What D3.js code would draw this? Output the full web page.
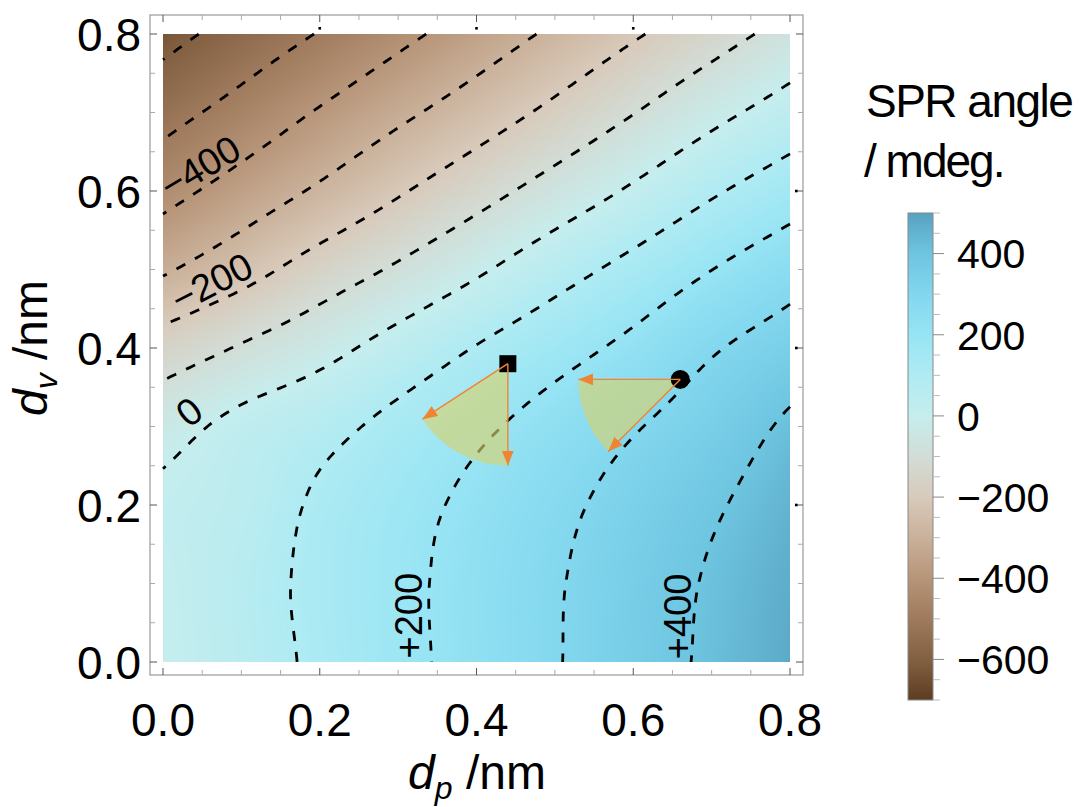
<!DOCTYPE html>
<html>
<head>
<meta charset="utf-8">
<script src="https://cdn.jsdelivr.net/npm/d3@7/dist/d3.min.js"></script>
<style>
body { margin: 0; background: #fff; }
svg text { font-family: "Liberation Sans", Arial, sans-serif; }
</style>
</head>
<body>
<script>
//Width and height
var w = 1081;
var h = 807;

// grid nodes (nm)
var dpValues = [0, 0.1, 0.2, 0.3, 0.4, 0.5, 0.6, 0.7, 0.8];
var dvValues = [0, 0.1, 0.2, 0.3, 0.4, 0.5, 0.6, 0.7, 0.8];

// SPR angle (mdeg), one array per dv row, dp left to right
var sprDv00 = [   0,   58,  117,  175,  234,  294,  355,  416,  477];
var sprDv01 = [   5,   62,  122,  177,  235,  292,  350,  410,  470];
var sprDv02 = [  15,   47,  114,  167,  222,  277,  334,  388,  450];
var sprDv03 = [ -35,   25,   70,  127,  182,  238,  293,  347,  415];
var sprDv04 = [-156,  -92,  -32,   37,  104,  164,  223,  291,  344];
var sprDv05 = [-312, -237, -157,  -87,  -14,   61,  129,  199,  261];
var sprDv06 = [-433, -360, -286, -210, -136,  -61,   13,   88,  153];
var sprDv07 = [-534, -465, -392, -321, -251, -178, -103,  -27,   41];
var sprDv08 = [-632, -562, -495, -425, -355, -283, -211, -140,  -67];

var contourLevels = [-600, -500, -400, -300, -200, -100, 0, 100, 200, 300, 400];
var labelLevels = [-400, -200, 0, 200, 400];
var labelTexts = ["\u2212400", "\u2212200", "0", "+200", "+400"];

var xTicks = [0, 0.2, 0.4, 0.6, 0.8];
var yTicks = [0, 0.2, 0.4, 0.6, 0.8];
var barTicks = [-600, -400, -200, 0, 200, 400];
var barTickLabels = ["\u2212600", "\u2212400", "\u2212200", "0", "200", "400"];
var barDomain = [-700, 500];

// the two measured points and the angle range each one fans out over
var markerDp = [0.44, 0.66];
var markerDv = [0.38, 0.36];
var markerShape = ["square", "circle"];
var wedgeFrom = [213, 180];
var wedgeTo = [270, 225];
var wedgeLength = 0.13;

var rows = [sprDv00, sprDv01, sprDv02, sprDv03, sprDv04, sprDv05, sprDv06, sprDv07, sprDv08];

var xScale = d3.scaleLinear().domain([0, 0.8]).range([163, 790]);
var yScale = d3.scaleLinear().domain([0, 0.8]).range([662, 34]);

var colorStops = [-700, -600, -500, -400, -300, -200, -100, 0, 100, 200, 300, 400, 500];
var colorHex = ["#5c3d20", "#836042", "#9f7a5c", "#b79579", "#cab19a", "#d8cabb", "#d2ddd6",
                "#c6eded", "#afebf3", "#97e4f4", "#82d7ee", "#6ec5e0", "#57a2c1"];
var color = d3.scaleLinear().domain(colorStops).range(colorHex).clamp(true);

// smooth surface through the grid nodes (Catmull-Rom)
function node(i, j) {
    var ni = dpValues.length, nj = dvValues.length;
    if (i < 0) return 2 * node(0, j) - node(1, j);
    if (i >= ni) return 2 * node(ni - 1, j) - node(ni - 2, j);
    if (j < 0) return 2 * node(i, 0) - node(i, 1);
    if (j >= nj) return 2 * node(i, nj - 1) - node(i, nj - 2);
    return rows[j][i];
}
function cubic(p0, p1, p2, p3, t) {
    return p1 + 0.5 * t * (p2 - p0 + t * (2 * p0 - 5 * p1 + 4 * p2 - p3 + t * (3 * (p1 - p2) + p3 - p0)));
}
var step = dpValues[1] - dpValues[0];
function sprAt(dp, dv) {
    var gx = dp / step, gy = dv / step;
    var i = Math.max(0, Math.min(Math.floor(gx), dpValues.length - 2));
    var j = Math.max(0, Math.min(Math.floor(gy), dvValues.length - 2));
    var tx = gx - i, ty = gy - j;
    var col = [];
    for (var m = -1; m <= 2; m++) {
        col.push(cubic(node(i - 1, j + m), node(i, j + m), node(i + 1, j + m), node(i + 2, j + m), tx));
    }
    return cubic(col[0], col[1], col[2], col[3], ty);
}

//Create SVG element
var svg = d3.select("body")
    .append("svg")
    .attr("width", w)
    .attr("height", h);
var defs = svg.append("defs");

// density image
var px0 = xScale(0), py0 = yScale(0.8);
var cw = Math.round(xScale(0.8) - xScale(0)), ch = Math.round(yScale(0) - yScale(0.8));
var canvas = document.createElement("canvas");
canvas.width = cw; canvas.height = ch;
var ctx = canvas.getContext("2d");
var img = ctx.createImageData(cw, ch);
var lut = [];
for (var v = barDomain[0]; v <= barDomain[1]; v++) lut.push(d3.rgb(color(v)));
for (var py = 0; py < ch; py++) {
    for (var px = 0; px < cw; px++) {
        var val = sprAt(xScale.invert(px0 + px + 0.5), yScale.invert(py0 + py + 0.5));
        var k = Math.max(0, Math.min(lut.length - 1, Math.round(val - barDomain[0])));
        var c = lut[k], o = (py * cw + px) * 4;
        img.data[o] = c.r; img.data[o + 1] = c.g; img.data[o + 2] = c.b; img.data[o + 3] = 255;
    }
}
ctx.putImageData(img, 0, 0);
svg.append("image")
    .attr("x", px0).attr("y", py0)
    .attr("width", cw).attr("height", ch)
    .attr("preserveAspectRatio", "none")
    .attr("href", canvas.toDataURL());

// contour lines
var N = 161, gs = 0.8 / (N - 1);
var values = new Array(N * N);
for (var j = 0; j < N; j++)
    for (var i = 0; i < N; i++)
        values[j * N + i] = sprAt(i * gs, 0.8 - j * gs);

var contours = d3.contours().size([N, N]).thresholds(contourLevels)(values);

function ringToLines(ring) {
    var n = ring.length - 1;
    var pts = ring.slice(0, n);
    var edge = pts.map(function(p) { return p[0] <= 0 || p[0] >= N || p[1] <= 0 || p[1] >= N; });
    var start = edge.indexOf(true);
    if (start < 0) return [pts.concat([pts[0]])];
    var lines = [], cur = [];
    for (var k = 1; k <= n; k++) {
        var idx = (start + k) % n;
        if (edge[idx]) { if (cur.length > 1) lines.push(cur); cur = []; }
        else cur.push(pts[idx]);
    }
    if (cur.length > 1) lines.push(cur);
    return lines;
}

var contourLine = d3.line()
    .x(function(p) { return xScale((p[0] - 0.5) * gs); })
    .y(function(p) { return yScale(0.8 - (p[1] - 0.5) * gs); });

var lineData = [];
contours.forEach(function(c) {
    c.coordinates.forEach(function(poly) {
        poly.forEach(function(ring) {
            ringToLines(ring).forEach(function(l) { lineData.push(l); });
        });
    });
});

svg.append("g")
    .selectAll("path")
    .data(lineData)
    .enter()
    .append("path")
    .attr("d", contourLine)
    .attr("fill", "none")
    .attr("stroke", "#000")
    .attr("stroke-width", 2.8)
    .attr("stroke-dasharray", "10,11");

// contour labels
var labelSpots = [[0.047, 0.631, -31], [0.062, 0.484, -27], [0.033, 0.319, -38], [0.313, 0.059, -90], [0.656, 0.058, -90]];
svg.append("g")
    .selectAll("text")
    .data(labelLevels)
    .enter()
    .append("text")
    .attr("transform", function(d, i) {
        return "translate(" + xScale(labelSpots[i][0]) + "," + yScale(labelSpots[i][1]) + ") rotate(" + labelSpots[i][2] + ")";
    })
    .attr("text-anchor", "middle")
    .attr("dy", "0.36em")
    .attr("font-size", "38px")
    .text(function(d, i) { return labelTexts[i]; });

// wedges under the markers, arrows on top
defs.append("marker")
    .attr("id", "head")
    .attr("viewBox", "0 0 15 12")
    .attr("refX", 15).attr("refY", 6)
    .attr("markerWidth", 15).attr("markerHeight", 12)
    .attr("markerUnits", "userSpaceOnUse")
    .attr("orient", "auto")
    .append("path")
    .attr("d", "M0,0L15,6L0,12Z")
    .attr("fill", "#ef8534");

var rpx = xScale(wedgeLength) - xScale(0);
var tips = [];
markerDp.forEach(function(d, i) {
    var cx = xScale(markerDp[i]), cy = yScale(markerDv[i]);
    var a0 = wedgeFrom[i] * Math.PI / 180, a1 = wedgeTo[i] * Math.PI / 180;
    var p0 = [cx + rpx * Math.cos(a0), cy - rpx * Math.sin(a0)];
    var p1 = [cx + rpx * Math.cos(a1), cy - rpx * Math.sin(a1)];
    tips.push([cx, cy, p0, p1]);
    svg.append("path")
        .attr("d", "M" + cx + "," + cy + "L" + p0 + "A" + rpx + "," + rpx + " 0 0 0 " + p1 + "Z")
        .attr("fill", "rgb(214,210,112)")
        .attr("fill-opacity", 0.65);
});

// markers
var marks = svg.append("g");
markerDp.forEach(function(d, i) {
    var cx = xScale(markerDp[i]), cy = yScale(markerDv[i]);
    if (markerShape[i] === "square") {
        marks.append("rect").attr("x", cx - 8.5).attr("y", cy - 8.5).attr("width", 17).attr("height", 17).attr("fill", "#000");
    } else {
        marks.append("circle").attr("cx", cx).attr("cy", cy).attr("r", 9.5).attr("fill", "#000");
    }
});

tips.forEach(function(t) {
    [t[2], t[3]].forEach(function(p) {
        svg.append("line")
            .attr("x1", t[0]).attr("y1", t[1])
            .attr("x2", p[0]).attr("y2", p[1])
            .attr("stroke", "#ef8534")
            .attr("stroke-width", 1.4)
            .attr("marker-end", "url(#head)");
    });
});

// frame
svg.append("rect")
    .attr("x", 150).attr("y", 15)
    .attr("width", 653).attr("height", 660)
    .attr("fill", "none")
    .attr("stroke", "#999")
    .attr("stroke-width", 1.2);

var minor = d3.range(0, 0.8001, 0.05);
var ticks = svg.append("g").attr("stroke-width", 1);
minor.forEach(function(t) {
    var major = xTicks.some(function(m) { return Math.abs(m - t) < 1e-6; });
    var len = major ? 7 : 5, col = major ? "#555" : "#aaa";
    ticks.append("line").attr("x1", xScale(t)).attr("x2", xScale(t)).attr("y1", 675).attr("y2", 675 - len).attr("stroke", col);
    ticks.append("line").attr("x1", xScale(t)).attr("x2", xScale(t)).attr("y1", 15).attr("y2", 15 + len).attr("stroke", col);
    ticks.append("line").attr("y1", yScale(t)).attr("y2", yScale(t)).attr("x1", 150).attr("x2", 150 + len).attr("stroke", col);
    ticks.append("line").attr("y1", yScale(t)).attr("y2", yScale(t)).attr("x1", 803).attr("x2", 803 - len).attr("stroke", col);
    if (major && t > 0 && t < 0.8) {
        ticks.append("rect").attr("x", xScale(t) - 1.3).attr("y", 27).attr("width", 2.6).attr("height", 2.6).attr("fill", "#000");
        ticks.append("rect").attr("x", 795).attr("y", yScale(t) - 1.3).attr("width", 2.6).attr("height", 2.6).attr("fill", "#000");
    }
});

// tick labels
svg.append("g")
    .selectAll("text")
    .data(xTicks)
    .enter()
    .append("text")
    .attr("x", function(d) { return xScale(d); })
    .attr("y", 736)
    .attr("text-anchor", "middle")
    .attr("font-size", "46px")
    .text(function(d) { return d3.format(".1f")(d); });

svg.append("g")
    .selectAll("text")
    .data(yTicks)
    .enter()
    .append("text")
    .attr("x", 141)
    .attr("y", function(d) { return yScale(d); })
    .attr("dy", "0.36em")
    .attr("text-anchor", "end")
    .attr("font-size", "46px")
    .text(function(d) { return d3.format(".1f")(d); });

// axis titles
var xt = svg.append("text")
    .attr("x", 477).attr("y", 789)
    .attr("text-anchor", "middle")
    .attr("font-size", "48px");
xt.append("tspan").attr("font-style", "italic").text("d");
xt.append("tspan").attr("font-style", "italic").attr("font-size", "32px").attr("dy", 10).text("p");
xt.append("tspan").attr("dy", -10).text(" /nm");

var yt = svg.append("text")
    .attr("transform", "translate(47,348) rotate(-90)")
    .attr("text-anchor", "middle")
    .attr("font-size", "48px");
yt.append("tspan").attr("font-style", "italic").text("d");
yt.append("tspan").attr("font-style", "italic").attr("font-size", "32px").attr("dy", 10).text("v");
yt.append("tspan").attr("dy", -10).text(" /nm");

// colour bar
var barScale = d3.scaleLinear().domain(barDomain).range([700, 213]);
var grad = defs.append("linearGradient")
    .attr("id", "bar")
    .attr("x1", 0).attr("y1", 1).attr("x2", 0).attr("y2", 0);
colorStops.forEach(function(s, i) {
    grad.append("stop")
        .attr("offset", (s - barDomain[0]) / (barDomain[1] - barDomain[0]))
        .attr("stop-color", colorHex[i]);
});
svg.append("rect")
    .attr("x", 908).attr("y", barScale(barDomain[1]))
    .attr("width", 25).attr("height", barScale(barDomain[0]) - barScale(barDomain[1]))
    .attr("fill", "url(#bar)")
    .attr("stroke", "#888")
    .attr("stroke-width", 1);

d3.range(barDomain[0], barDomain[1] + 1, 50).forEach(function(t) {
    var major = barTicks.indexOf(t) >= 0;
    svg.append("line")
        .attr("x1", 933).attr("x2", major ? 944 : 940)
        .attr("y1", barScale(t)).attr("y2", barScale(t))
        .attr("stroke", major ? "#888" : "#bbb")
        .attr("stroke-width", 1);
});

svg.append("g")
    .selectAll("text")
    .data(barTicks)
    .enter()
    .append("text")
    .attr("x", 957)
    .attr("y", function(d) { return barScale(d); })
    .attr("dy", "0.36em")
    .attr("font-size", "41px")
    .text(function(d, i) { return barTickLabels[i]; });

svg.append("text").attr("x", 866).attr("y", 117).attr("font-size", "46px").attr("letter-spacing", "-1.5").text("SPR angle");
svg.append("text").attr("x", 864).attr("y", 177).attr("font-size", "46px").attr("letter-spacing", "-2").text("/ mdeg.");
</script>
</body>
</html>
